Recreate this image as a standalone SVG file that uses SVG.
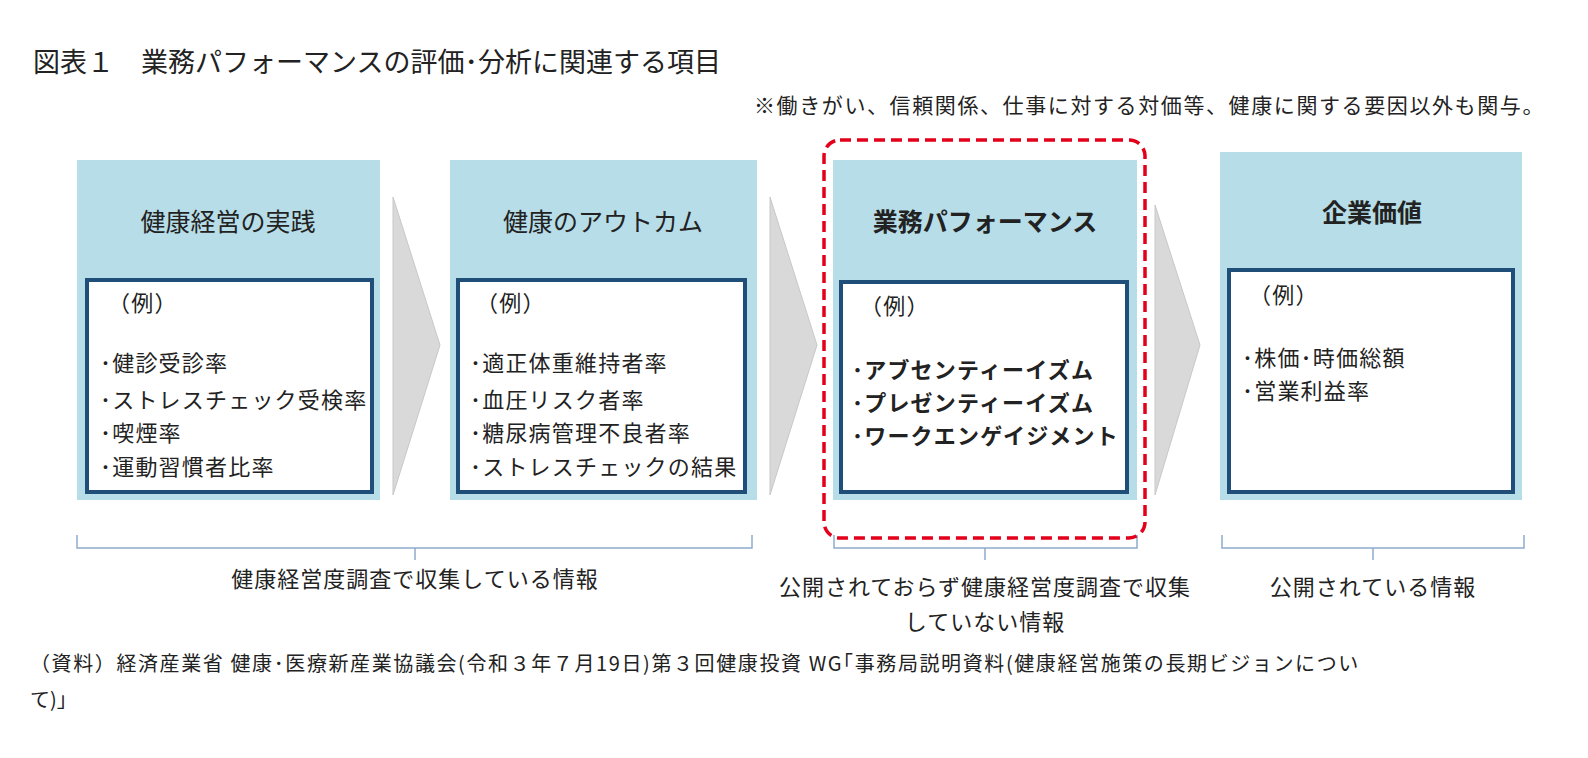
<svg xmlns="http://www.w3.org/2000/svg" width="1588" height="758" viewBox="0 0 1588 758">
<style>
text{font-family:"Noto Sans CJK JP","Liberation Sans",sans-serif;fill:#222}
.outer{fill:#b7dde8}
.inner{fill:#fff;stroke:#1f4e79;stroke-width:4}
.h{font-size:25px;text-anchor:middle}
.b{font-weight:bold}
.t{font-size:22px;letter-spacing:1.2px}
.arr{fill:#d9d9d9;stroke:#c8c8c8}
.br{fill:none;stroke:#8eaacc;stroke-width:1.5}
.c{font-size:22px;text-anchor:middle;letter-spacing:1px}
</style>
<rect width="1588" height="758" fill="#fff"/>
<text x="33" y="72" font-size="27">図表１　業務パフォーマンスの評価･分析に関連する項目</text>
<text x="1545" y="113" font-size="21" letter-spacing="1.6" text-anchor="end">※働きがい、信頼関係、仕事に対する対価等、健康に関する要因以外も関与。</text>
<g id="connectors">
<polygon class="arr" points="393,197 440,345 393,495"/>
<polygon class="arr" points="770,197 817,345 770,495"/>
<polygon class="arr" points="1155,205 1200,345 1155,495"/>
<path class="br" d="M77,535 v13 H415 v12 M415,548 H752 v-13"/>
<path class="br" d="M834,535 v13 H985 v12 M985,548 H1137 v-13"/>
<path class="br" d="M1222,535 v13 H1373 v12 M1373,548 H1524 v-13"/>
</g>
<g id="node1">
<rect class="outer" x="77" y="160" width="303" height="340"/>
<rect class="inner" x="87" y="280" width="285" height="212"/>
<text class="h" x="228" y="231">健康経営の実践</text>
<text class="t" x="108" y="311">（例）</text>
<text class="t" x="100" y="371">･健診受診率</text>
<text class="t" x="100" y="408">･ストレスチェック受検率</text>
<text class="t" x="100" y="441">･喫煙率</text>
<text class="t" x="100" y="475">･運動習慣者比率</text>
</g>
<g id="node2">
<rect class="outer" x="450" y="160" width="307" height="340"/>
<rect class="inner" x="458" y="280" width="287" height="212"/>
<text class="h" x="603" y="231">健康のアウトカム</text>
<text class="t" x="476" y="311">（例）</text>
<text class="t" x="470" y="371">･適正体重維持者率</text>
<text class="t" x="470" y="408">･血圧リスク者率</text>
<text class="t" x="470" y="441">･糖尿病管理不良者率</text>
<text class="t" x="470" y="475">･ストレスチェックの結果</text>
</g>
<g id="node3">
<rect class="outer" x="833" y="160" width="304" height="340"/>
<rect class="inner" x="841" y="282" width="286" height="210"/>
<text class="h b" x="985" y="231">業務パフォーマンス</text>
<text class="t" x="860" y="314">（例）</text>
<text class="t b" x="852" y="378" letter-spacing="0">･アブセンティーイズム</text>
<text class="t b" x="852" y="411" letter-spacing="0">･プレゼンティーイズム</text>
<text class="t b" x="852" y="444" letter-spacing="0">･ワークエンゲイジメント</text>
<rect x="824" y="140" width="321" height="398" rx="16" fill="none" stroke="#e3001b" stroke-width="3.5" stroke-dasharray="11,6"/>
</g>
<g id="node4">
<rect class="outer" x="1220" y="152" width="302" height="348"/>
<rect class="inner" x="1229" y="270" width="284" height="222"/>
<text class="h b" x="1372" y="222">企業価値</text>
<text class="t" x="1249" y="303">（例）</text>
<text class="t" x="1242" y="366">･株価･時価総額</text>
<text class="t" x="1242" y="399">･営業利益率</text>
</g>
<g id="labels">
<text class="c" x="415" y="587">健康経営度調査で収集している情報</text>
<text class="c" x="985" y="595">公開されておらず健康経営度調査で収集</text>
<text class="c" x="985" y="630">していない情報</text>
<text class="c" x="1373" y="595">公開されている情報</text>
<text font-size="20" letter-spacing="1.6" x="30" y="671">（資料）経済産業省 健康･医療新産業協議会(令和３年７月19日)第３回健康投資 WG｢事務局説明資料(健康経営施策の長期ビジョンについ</text>
<text font-size="20" x="30" y="707">て)｣</text>
</g>
</svg>
